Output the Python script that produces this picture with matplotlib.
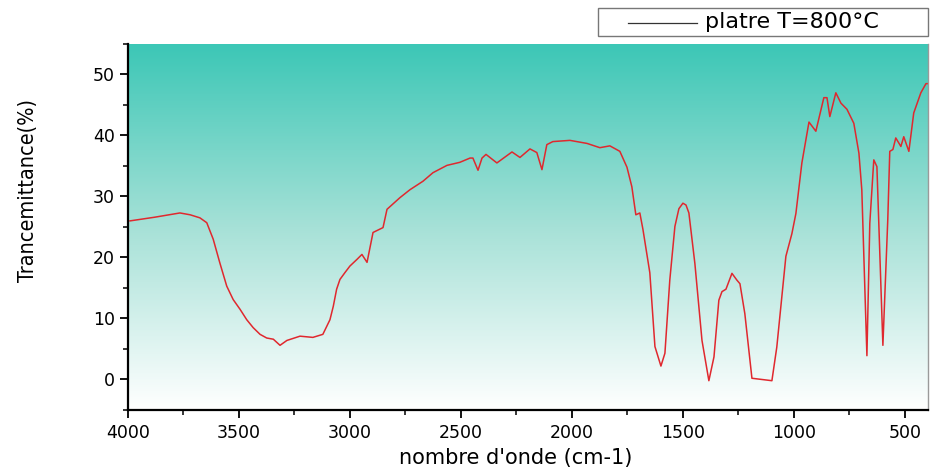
import matplotlib
matplotlib.use('Agg')
import matplotlib.pyplot as plt
import numpy as np
from matplotlib.colors import LinearSegmentedColormap
from matplotlib.lines import Line2D
from matplotlib.patches import Rectangle
from matplotlib.ticker import MultipleLocator

# spectre IR du platre calcine a 800 C
wavenumber = [3991, 3880, 3766, 3720, 3676, 3645, 3616, 3586, 3555, 3526, 3495, 3465,
              3436, 3405, 3375, 3345, 3315, 3284, 3225, 3167, 3122, 3090, 3075, 3060,
              3045, 3023, 3000, 2968, 2946, 2923, 2896, 2851, 2833, 2775, 2730, 2671,
              2626, 2563, 2505, 2459, 2446, 2423, 2405, 2387, 2338, 2270, 2234, 2189,
              2158, 2135, 2113, 2086, 2009, 1932, 1874, 1829, 1784, 1752, 1730, 1712,
              1694, 1680, 1649, 1626, 1599, 1581, 1559, 1536, 1518, 1500, 1486, 1473,
              1446, 1414, 1383, 1360, 1338, 1324, 1306, 1279, 1257, 1243, 1221, 1189,
              1099, 1077, 1036, 1009, 991, 964, 932, 901, 865, 851, 838, 811, 788, 761,
              730, 707, 694, 671, 658, 640, 626, 599, 577, 568, 554, 541, 518, 505, 482,
              460, 428, 405, 396]
transmittance = [26.0, 26.6, 27.3, 27.0, 26.5, 25.7, 23.0, 19.1, 15.3, 13.1, 11.5, 9.8,
                 8.5, 7.4, 6.8, 6.6, 5.6, 6.4, 7.1, 6.9, 7.4, 9.8, 12.0, 14.8,
                 16.4, 17.5, 18.6, 19.7, 20.5, 19.2, 24.1, 24.9, 27.9, 29.8, 31.1, 32.5,
                 33.9, 35.1, 35.6, 36.3, 36.3, 34.3, 36.3, 36.9, 35.5, 37.3, 36.4, 37.8,
                 37.2, 34.4, 38.5, 39.0, 39.2, 38.7, 38.0, 38.3, 37.4, 34.8, 31.6, 27.0,
                 27.3, 24.6, 17.5, 5.4, 2.2, 4.3, 16.3, 25.1, 28.0, 28.9, 28.6, 27.3,
                 19.0, 6.4, -0.2, 3.7, 13.0, 14.4, 14.8, 17.4, 16.3, 15.7, 10.8, 0.2,
                 -0.2, 5.3, 20.2, 23.9, 27.2, 35.5, 42.2, 40.7, 46.2, 46.2, 43.1, 47.0, 45.3, 44.3,
                 42.0, 37.1, 31.1, 3.9, 25.6, 36.0, 34.9, 5.6, 26.2, 37.4, 37.7, 39.6, 38.2, 39.8, 37.4,
                 43.7, 47.0, 48.5, 48.5]

xticks = [4000, 3500, 3000, 2500, 2000, 1500, 1000, 500]
yticks = [0, 10, 20, 30, 40, 50]

fig = plt.figure(figsize=(9.3, 4.72), dpi=100)
ax = fig.add_axes([0.1376, 0.1314, 0.8602, 0.7754])

# fond en degrade
cmap = LinearSegmentedColormap.from_list('bg', ['#ffffff', '#a6e1d7', '#3cc7b6'])
grad = np.linspace(0, 1, 256).reshape(-1, 1)
ax.imshow(grad, cmap=cmap, origin='lower', aspect='auto',
          extent=[0, 1, 0, 1], transform=ax.transAxes, zorder=0)

ax.plot(wavenumber, transmittance, color='#e0282e', lw=1.1, zorder=2)

ax.set_xlim(4000, 396)
ax.set_ylim(-5, 55)
ax.set_xticks(xticks)
ax.set_yticks(yticks)
ax.xaxis.set_minor_locator(MultipleLocator(250))
ax.yaxis.set_minor_locator(MultipleLocator(5))
ax.tick_params(which='major', direction='out', length=6, width=1.3, labelsize=12.5)
ax.tick_params(which='minor', direction='out', length=3.5, width=1.1)
ax.tick_params(axis='x', pad=4)

for s in ['left', 'bottom']:
    ax.spines[s].set_linewidth(1.6)
    ax.spines[s].set_color('black')
ax.spines['top'].set_visible(False)
ax.spines['right'].set_color('#9a9a9a')
ax.spines['right'].set_linewidth(1.0)

ax.set_xlabel("nombre d'onde (cm-1)", fontsize=15)
ax.xaxis.set_label_coords(0.485, -0.105)
ax.set_ylabel('Trancemittance(%)', fontsize=15.5, family='DejaVu Sans',
              fontstretch='condensed')
ax.yaxis.set_label_coords(-0.112, 0.6)

# legende dessinee a la main (cadre hors du graphe)
fig.patches.append(Rectangle((598 / 930, 1 - 36 / 472), 330 / 930, 28 / 472,
                             transform=fig.transFigure, facecolor='white',
                             edgecolor='#777777', lw=1.0))
fig.lines.append(Line2D([628 / 930, 697 / 930], [1 - 23 / 472, 1 - 23 / 472],
                        transform=fig.transFigure, color='#333333', lw=0.9))
fig.text(705 / 930, 1 - 22 / 472, 'platre T=800°C', fontsize=16,
         va='center', ha='left')

fig.savefig('out.png', dpi=100)
